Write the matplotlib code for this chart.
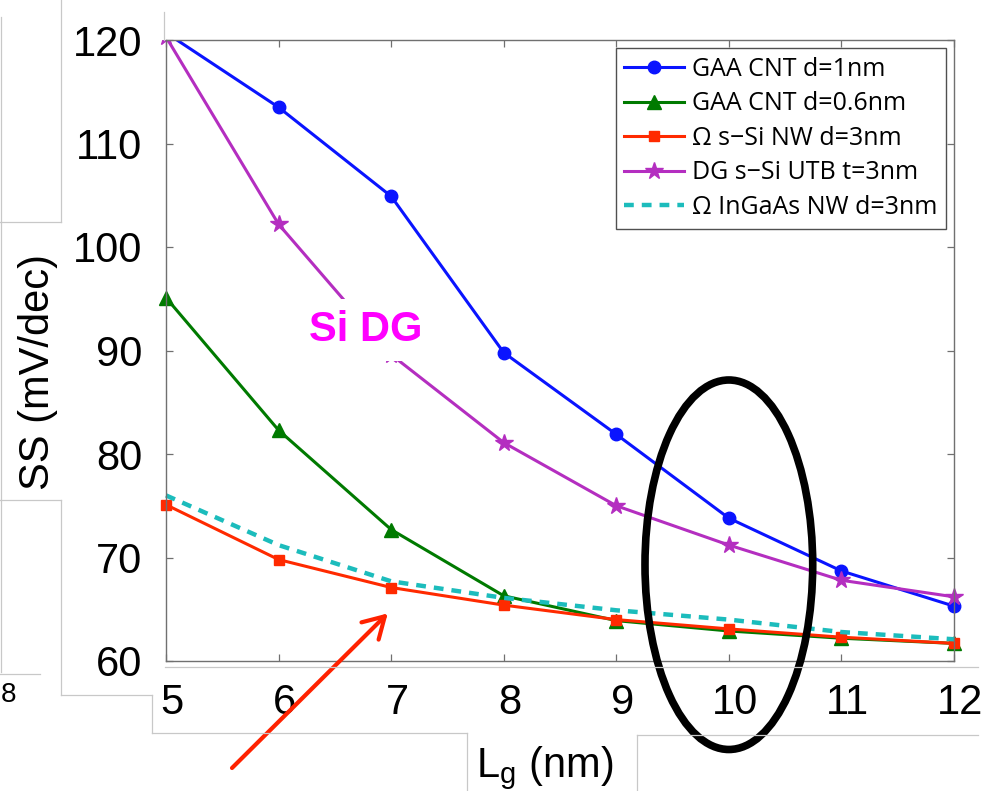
import matplotlib
matplotlib.use("Agg")
import matplotlib.pyplot as plt
from matplotlib.lines import Line2D
from matplotlib.patches import Ellipse
from matplotlib.transforms import ScaledTranslation, Bbox, TransformedBbox

plt.rcParams["font.family"] = ["Liberation Sans", "DejaVu Sans"]
plt.rcParams["mathtext.fontset"] = "custom"
plt.rcParams["mathtext.rm"] = "Liberation Sans"
plt.rcParams["mathtext.it"] = "Liberation Sans:italic"

# gate length (nm) and subthreshold swing (mV/dec)
lg = [5, 6, 7, 8, 9, 10, 11, 12]
ss_cnt_1nm = [120.7, 113.5, 104.9, 89.8, 81.9, 73.8, 68.7, 65.3]
ss_cnt_06nm = [95.1, 82.3, 72.7, 66.3, 63.9, 62.9, 62.2, 61.7]
ss_si_nw = [75.1, 69.8, 67.1, 65.4, 64.0, 63.1, 62.3, 61.7]
ss_si_utb = [120.3, 102.2, 89.6, 81.1, 75.0, 71.2, 67.8, 66.2]
ss_ingaas_nw = [76.0, 71.2, 67.7, 66.1, 64.9, 64.0, 62.8, 62.1]

labels = ["GAA CNT d=1nm", "GAA CNT d=0.6nm", "\u03a9 s\u2212Si NW d=3nm",
          "DG s\u2212Si UTB t=3nm", "\u03a9 InGaAs NW d=3nm"]
yticks = [60, 70, 80, 90, 100, 110, 120]

W, H = 983, 791
fig = plt.figure(figsize=(W / 100, H / 100), dpi=100)
ax = fig.add_axes([166 / W, 1 - 661 / H, 788 / W, 621 / H])

lines = [
    ax.plot(lg, ss_cnt_1nm, color="#0a14ff", lw=2.2, marker="o", ms=9, label=labels[0]),
    ax.plot(lg, ss_cnt_06nm, color="#007a00", lw=2.2, marker="^", ms=10, label=labels[1]),
    ax.plot(lg, ss_si_nw, color="#ff2a00", lw=2.2, marker="s", ms=7.5, label=labels[2]),
    ax.plot(lg, ss_si_utb, color="#b42ec0", lw=2.2, marker="*", ms=13, label=labels[3]),
    ax.plot(lg, ss_ingaas_nw, color="#1cbcbc", lw=3.2, ls=(0, (2.2, 1.8)), label=labels[4]),
]

# clip only at the top so the end markers stay whole at the sides
clip = TransformedBbox(Bbox([[-0.05, -0.05], [1.05, 1.0]]), ax.transAxes)
for ln in lines:
    ln[0].set_clip_box(clip)

ax.set_xlim(5, 12)
ax.set_ylim(60, 120)
ax.set_xticks(lg)
ax.set_yticks(yticks)
ax.tick_params(direction="in", top=True, right=True, length=5, width=0.9,
               color="#707070", labelsize=30)
ax.tick_params(axis="y", pad=17)
ax.tick_params(axis="x", pad=16)
for sp in ax.spines.values():
    sp.set_color("#707070")
    sp.set_linewidth(1.0)

# nudge the x tick labels a little to the right
shift = ScaledTranslation(6 / 100, 0, fig.dpi_scale_trans)
for t in ax.get_xticklabels():
    t.set_transform(t.get_transform() + shift)

leg = ax.legend(loc="upper right", bbox_to_anchor=(0.99, 0.987), borderaxespad=0,
                fancybox=False, edgecolor="#505050", framealpha=1,
                prop={"family": "Open Sans", "size": 18}, handlelength=2.4,
                handletextpad=0.3, labelspacing=0.38, borderpad=0.35)
leg.get_frame().set_linewidth(1.0)
leg.set_zorder(5)

ax.text(6.77, 92.0, "Si DG", color="#ff00ff", fontsize=30, fontweight="bold",
        ha="center", va="center", zorder=4,
        bbox=dict(fc="white", ec="none", pad=8))

ax.add_patch(Ellipse((10, 69.3), 1.49, 35.7, fill=False, lw=5.5, ec="black",
                     clip_on=False, zorder=6))

ax.annotate("", xy=(6.97, 64.6), xycoords="data", xytext=(232, 23),
            textcoords="figure pixels",
            arrowprops=dict(arrowstyle="->,head_length=0.6,head_width=0.35",
                            color="#ff2200", lw=3, mutation_scale=25,
                            shrinkA=0, shrinkB=0))

fig.text(38 / W, 1 - 372 / H, "SS (mV/dec)", rotation=90, fontsize=30,
         ha="center", va="center")
fig.text(545 / W, 1 - 777 / H, r"L$_{\mathrm{g}}$ (nm)", fontsize=30,
         ha="center", va="baseline")
fig.text(8 / W, 1 - 695 / H, "8", fontsize=20, ha="center", va="center")


def frame_line(x0, y0, x1, y1):
    fig.add_artist(Line2D([x0 / W, x1 / W], [1 - y0 / H, 1 - y1 / H],
                          color="#c8c8c8", lw=0.9))


for seg in [(1, 17, 1, 672), (61, 0, 61, 222), (0, 222, 61, 222),
            (0, 500, 61, 500), (61, 500, 61, 695), (0, 674, 40, 674),
            (61, 695, 152, 695), (152, 695, 152, 733), (152, 733, 467, 733),
            (467, 733, 467, 791), (637, 735, 637, 791), (637, 735, 978, 735),
            (164, 12, 164, 40), (165, 667, 978, 667)]:
    frame_line(*seg)

fig.savefig("out.png", dpi=100)
